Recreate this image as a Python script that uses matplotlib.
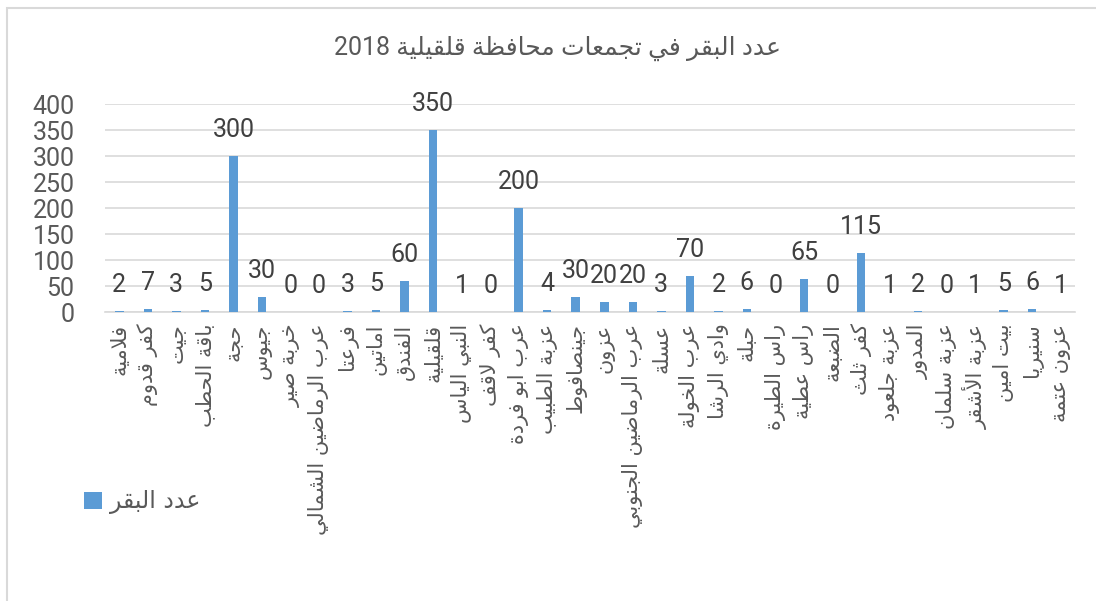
import matplotlib
matplotlib.use("Agg")
import matplotlib.pyplot as plt
import matplotlib.patches as mpatches
import numpy as np

# villages of Qalqilya governorate and their cattle counts (2018)
villages = ["فلامية", "كفر قدوم", "جيت", "باقة الحطب", "حجة", "جيوس", "خربة صير",
            "عرب الرماضين الشمالي", "فرعتا", "اماتين", "الفندق", "قلقيلية",
            "النبي الياس", "كفر لاقف", "عرب ابو فردة", "عزبة الطبيب", "جينصافوط",
            "عزون", "عرب الرماضين الجنوبي", "عسلة", "عرب الخولة", "وادي الرشا",
            "حبلة", "راس الطيرة", "راس عطية", "الضبعة", "كفر ثلث", "عزبة جلعود",
            "المدور", "عزبة سلمان", "عزبة الأشقر", "بيت امين", "سنيريا", "عزون عتمة"]
cattle = [2, 7, 3, 5, 300, 30, 0, 0, 3, 5, 60, 350, 1, 0, 200, 4, 30, 20, 20, 3,
          70, 2, 6, 0, 65, 0, 115, 1, 2, 0, 1, 5, 6, 1]
yticks = [0, 50, 100, 150, 200, 250, 300, 350, 400]
title_ar = "عدد البقر في تجمعات محافظة قلقيلية"
title_year = "2018"
series_name = "عدد البقر"


# --- minimal arabic shaping (matplotlib has no complex text layout) ---
_letters = "ءآأؤإئابةتثجحخدذرزسشصضطظعغفقكلمنهوىي"
_dual = set("ئبتثجحخسشصضطظعغفقكلمنهي")
_start = {}
code = 0xFE80
for ch in _letters:
    _start[ch] = code
    if ch == "ء":
        code += 1
    elif ch in _dual:
        code += 4
    else:
        code += 2
_lamalef = {"آ": 0xFEF5, "أ": 0xFEF7, "إ": 0xFEF9, "ا": 0xFEFB}


def shape(text):
    chars = list(text)
    n = len(chars)
    out = []
    i = 0
    while i < n:
        c = chars[i]
        prev = chars[i - 1] if i > 0 else ""
        link_prev = prev in _dual
        if c == "ل" and i + 1 < n and chars[i + 1] in _lamalef:
            out.append(chr(_lamalef[chars[i + 1]] + (1 if link_prev else 0)))
            i += 2
            continue
        if c not in _start or c == "ء":
            out.append(c)
            i += 1
            continue
        nxt = chars[i + 1] if i + 1 < n else ""
        link_next = c in _dual and nxt in _start and nxt != "ء"
        if c in _dual:
            off = [[0, 2], [1, 3]][link_prev][link_next]
        else:
            off = 1 if link_prev else 0
        out.append(chr(_start[c] + off))
        i += 1
    return "".join(reversed(out))


# Roboto for the digits, DejaVu Sans carries the arabic glyphs
plt.rcParams['font.family'] = ['Roboto', 'DejaVu Sans']
ARAB = ['DejaVu Sans']

W, H = 1096, 601
fig = plt.figure(figsize=(W / 100, H / 100), dpi=100)
ax = fig.add_axes([105 / W, 1 - 312.3 / H, 970 / W, 208 / H])

grey = "#D9D9D9"
txt = "#595959"
x = np.arange(len(villages))

ax.bar(x, cattle, width=0.3, color="#5B9BD5", label=shape(series_name), zorder=3)

for xi, v in zip(x, cattle):
    ax.annotate(str(v), (xi, v), xytext=(0, 10), textcoords="offset points",
                ha="center", va="bottom", fontsize=18, color="#404040")

ax.set_xlim(-0.5, len(villages) - 0.5)
ax.set_ylim(0, 400)
ax.set_yticks(yticks)
ax.yaxis.grid(True, color=grey, linewidth=1.2, zorder=0)
ax.tick_params(axis="y", length=0, pad=22, labelsize=18, labelcolor=txt)
ax.tick_params(axis="x", length=0, pad=8)
ax.set_xticks(x)
ax.set_xticklabels([shape(v) for v in villages], rotation=90, fontsize=15,
                   color=txt, family=ARAB)

for s in ["top", "right", "left"]:
    ax.spines[s].set_visible(False)
ax.spines["bottom"].set_color(grey)
ax.spines["bottom"].set_linewidth(1.2)

fig.text(557 / W, 1 - 48 / H, title_year + " " + shape(title_ar), ha="center",
         va="center", fontsize=18, color=txt)

ax.legend(loc="center left", bbox_to_anchor=(72 / W, 1 - 502 / H),
          bbox_transform=fig.transFigure, frameon=False,
          prop={'family': ARAB, 'size': 17},
          handlelength=0.75, handleheight=0.75, handletextpad=0.35,
          borderpad=0, labelcolor=txt)

# chart area border (only top and left edges fall inside the image)
border = mpatches.Rectangle((7 / W, -0.1), 1.2, (H - 8) / H + 0.1,
                            transform=fig.transFigure, fill=False,
                            edgecolor=grey, linewidth=1.5)
fig.add_artist(border)

fig.savefig("out.png", dpi=100)
